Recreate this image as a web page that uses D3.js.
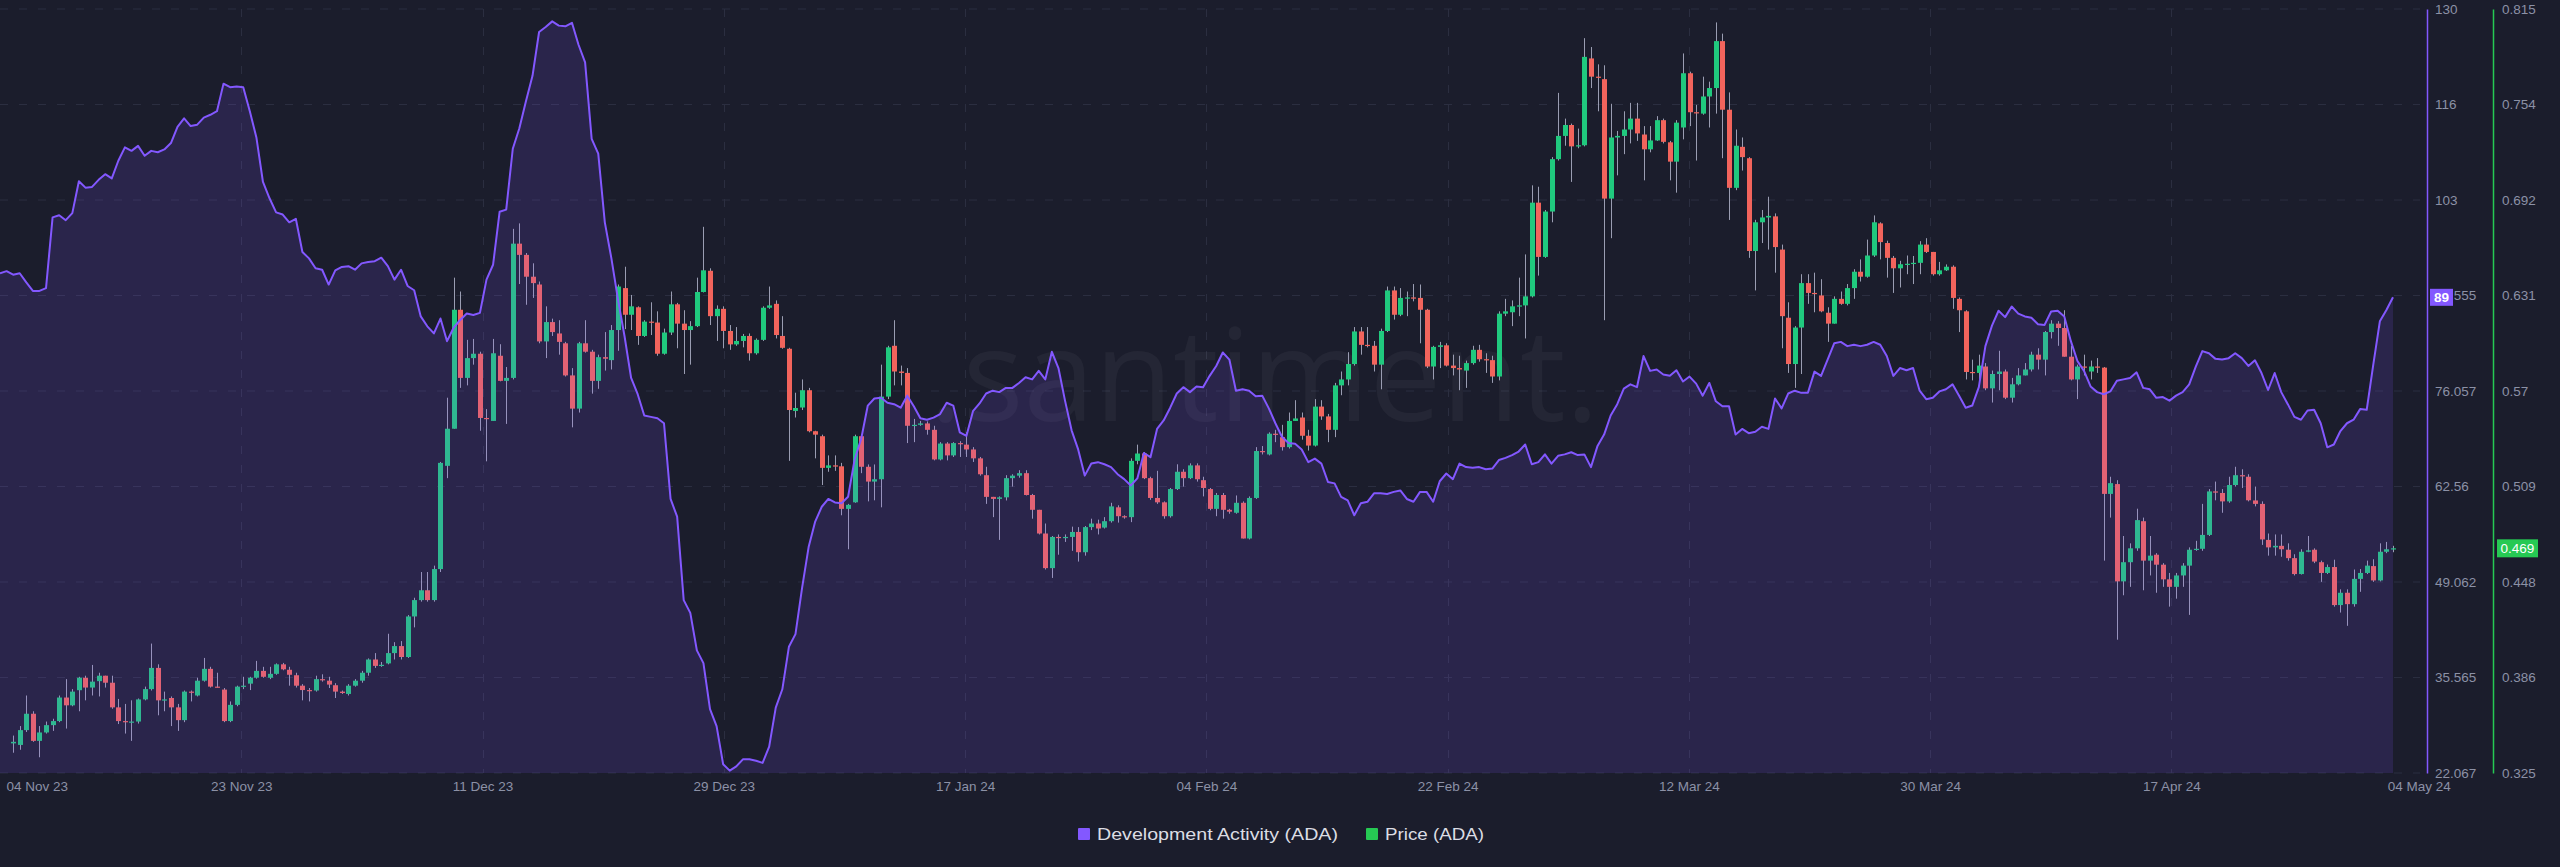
<!DOCTYPE html>
<html><head><meta charset="utf-8">
<script src="https://cdn.jsdelivr.net/npm/d3@7"></script>
<style>
html,body{margin:0;padding:0;background:#1b1d2c;}
svg{display:block;}
</style></head><body>
<svg id="chart" width="2560" height="867"></svg>
<script>
// ---------------- DATA ----------------
const devStart = "2023-11-04T00:00:00Z";   // first Development Activity sample
const candleStart = "2023-11-05T00:00:00Z"; // first price candle
const stepHours = 12;

const devActivity = [
92.7,93.0,92.5,92.7,91.4,90.2,90.2,90.6,100.6,100.9,
100.2,101.2,105.7,104.8,104.9,105.9,106.7,106.1,108.6,110.5,
110.0,110.7,109.3,110.0,109.8,110.2,111.1,113.4,114.6,113.5,
113.7,114.7,115.1,115.6,119.5,119.0,119.1,119.0,115.6,111.9,
105.6,103.3,101.3,101.0,99.9,100.4,95.7,94.8,93.4,93.2,
91.1,93.1,93.6,93.7,93.2,94.1,94.3,94.4,94.9,93.7,
91.8,93.2,90.9,90.3,86.6,85.2,84.2,86.3,83.1,85.0,
86.1,87.0,86.8,87.1,91.8,93.9,101.4,101.7,110.3,113.2,
117.0,120.6,126.8,127.5,128.3,127.7,127.6,128.1,125.0,122.5,
111.7,109.6,99.9,94.8,89.0,83.8,77.9,75.6,72.6,72.4,
72.2,71.5,60.8,58.3,46.5,44.7,39.4,37.6,31.1,28.7,
23.3,22.4,23.0,24.0,24.0,23.8,23.5,25.8,31.3,33.9,
39.9,41.7,48.2,54.0,57.6,59.7,60.8,60.3,60.2,61.1,
66.4,69.3,74.0,75.0,75.1,74.4,74.2,73.7,75.4,73.9,
72.2,72.0,72.3,72.8,74.4,74.0,70.2,69.7,73.2,74.3,
75.7,76.1,75.9,76.5,76.5,77.2,78.0,77.7,78.9,77.7,
81.6,79.3,74.7,70.5,67.8,64.1,65.8,66.0,65.7,65.3,
64.3,63.6,62.7,63.7,67.3,66.7,70.7,71.9,73.7,75.7,
76.6,75.9,76.7,76.6,78.2,79.6,81.5,80.5,76.1,76.3,
76.1,75.3,75.4,73.6,71.5,69.6,68.7,68.6,67.8,66.0,
66.5,65.8,63.2,63.0,61.1,60.6,58.5,60.2,60.4,61.6,
61.6,61.5,61.8,62.0,60.8,60.4,61.8,61.8,60.4,63.3,
64.4,63.6,65.8,65.3,65.2,65.3,65.0,65.1,66.3,66.6,
67.0,67.5,68.5,65.7,66.0,67.1,65.8,66.9,67.1,67.4,
67.0,67.1,65.3,68.3,69.9,72.6,74.2,76.4,77.0,76.6,
81.0,78.9,79.1,78.4,78.2,79.0,77.4,78.1,77.1,75.4,
77.2,74.6,73.9,73.9,69.9,70.7,70.1,70.3,71.0,70.7,
75.0,73.6,75.7,76.1,75.8,75.8,78.8,78.2,80.5,82.8,
83.0,82.4,82.6,82.4,82.6,83.0,82.6,81.0,78.2,79.3,
79.0,79.3,76.1,74.9,75.1,76.0,76.3,77.0,75.4,73.7,
74.0,76.6,82.4,85.3,87.4,86.5,88.0,87.0,86.6,86.4,
85.5,85.4,87.3,87.4,86.6,83.1,80.3,78.9,76.7,75.9,
75.6,76.0,77.5,77.7,77.9,78.7,76.5,76.3,75.1,75.2,
74.7,75.4,75.9,77.0,79.5,81.7,81.4,80.6,80.5,80.7,
81.4,80.7,79.6,80.4,78.6,76.2,78.6,75.9,74.2,72.4,
72.0,73.3,73.4,71.5,68.1,68.5,70.4,71.5,72.0,73.5,
73.4,79.8,85.9,87.5,89.3];

const priceOpen = [
0.344,0.343,0.3525,0.363,0.3456,0.351,0.3557,0.3583,0.3734,0.3684,
0.3781,0.3861,0.3798,0.3839,0.3874,0.3829,0.3671,0.3583,0.3577,0.358,
0.3722,0.3788,0.3924,0.3716,0.3731,0.3671,0.3589,0.3772,0.3747,0.3842,
0.3918,0.3804,0.3785,0.3583,0.3687,0.3804,0.3823,0.3861,0.3905,0.3861,
0.3886,0.3947,0.3912,0.3877,0.381,0.3782,0.3779,0.3852,0.3842,0.3813,
0.3772,0.3757,0.381,0.3842,0.3893,0.3978,0.3937,0.3953,0.4019,0.4064,
0.3994,0.4254,0.4359,0.4422,0.4359,0.4558,0.522,0.5458,0.6221,0.5784,
0.5911,0.5939,0.5527,0.5508,0.5926,0.5765,0.5784,0.6645,0.6573,0.6433,
0.6383,0.6018,0.6142,0.6069,0.6006,0.58,0.5587,0.6006,0.5952,0.5765,
0.5917,0.5898,0.6091,0.636,0.6189,0.6237,0.6053,0.6145,0.6139,0.5939,
0.6075,0.6256,0.6132,0.6091,0.6116,0.6335,0.6471,0.618,0.6227,0.6085,
0.5999,0.6021,0.6053,0.5942,0.6028,0.6234,0.6259,0.6053,0.5971,0.5572,
0.5594,0.5705,0.5442,0.541,0.5207,0.5223,0.5217,0.4944,0.4986,0.541,
0.5214,0.5119,0.5134,0.5664,0.599,0.5825,0.5816,0.5477,0.5483,0.5492,
0.5451,0.5261,0.5363,0.5287,0.5366,0.5356,0.5325,0.5268,0.516,0.5021,
0.5008,0.5018,0.5141,0.5157,0.5173,0.5033,0.4938,0.4786,0.4564,0.4764,
0.4758,0.4764,0.4796,0.4666,0.4827,0.485,0.4824,0.4865,0.4954,0.4897,
0.4891,0.5252,0.5299,0.5141,0.5014,0.4986,0.4897,0.5071,0.5182,0.5141,
0.5223,0.5128,0.5071,0.4944,0.5033,0.4938,0.4919,0.4983,0.4754,0.5014,
0.5315,0.5293,0.5426,0.5404,0.534,0.5508,0.553,0.5413,0.535,0.56,
0.5537,0.5451,0.5736,0.5774,0.5873,0.6082,0.5996,0.599,0.5869,0.6085,
0.6345,0.6189,0.6297,0.63,0.6297,0.6221,0.5857,0.5983,0.5993,0.5863,
0.5847,0.5831,0.5879,0.5964,0.5904,0.5898,0.5793,0.6196,0.6205,0.6243,
0.6249,0.6307,0.6908,0.656,0.6851,0.7187,0.7336,0.7406,0.7269,0.7276,
0.7833,0.7716,0.77,0.6934,0.7326,0.7336,0.7377,0.7447,0.7345,0.725,
0.7307,0.7437,0.7295,0.7171,0.739,0.7738,0.7488,0.7479,0.7589,0.7643,
0.7944,0.7504,0.7003,0.7266,0.7193,0.6598,0.6782,0.6813,0.682,0.6607,
0.617,0.5873,0.6107,0.6392,0.6329,0.6313,0.6202,0.6132,0.6291,0.6259,
0.636,0.6465,0.6433,0.6569,0.6775,0.6649,0.6554,0.6487,0.6513,0.6516,
0.6522,0.6639,0.6592,0.6449,0.6474,0.6497,0.6291,0.6211,0.5822,0.5816,
0.5857,0.5717,0.5809,0.5825,0.5657,0.5743,0.58,0.5838,0.5933,0.5901,
0.6078,0.6132,0.6104,0.592,0.5774,0.5857,0.5825,0.5857,0.585,0.504,
0.5103,0.4479,0.4602,0.4691,0.4865,0.4612,0.465,0.4586,0.4492,0.4444,
0.4517,0.458,0.4682,0.4688,0.4777,0.5056,0.5046,0.4992,0.5097,0.516,
0.515,0.4998,0.4976,0.4745,0.4697,0.4707,0.4682,0.4628,0.4526,0.4669,
0.4682,0.4602,0.4533,0.4571,0.4327,0.4406,0.4333,0.4495,0.4533,0.4577,
0.4485,0.4669,0.4685];

const priceHigh = [
0.349,0.3551,0.3747,0.3646,0.3551,0.358,0.3598,0.3747,0.3852,0.3788,
0.3867,0.3874,0.3943,0.3893,0.3874,0.3874,0.3725,0.3693,0.3716,0.3728,
0.3804,0.408,0.3947,0.3772,0.3741,0.3693,0.3779,0.3779,0.3861,0.3988,
0.3931,0.3893,0.3795,0.3709,0.381,0.3867,0.3867,0.3969,0.3931,0.3931,
0.3953,0.3956,0.3931,0.3893,0.382,0.3795,0.3874,0.3883,0.3867,0.3826,
0.3779,0.382,0.3852,0.3905,0.3985,0.4019,0.3962,0.4143,0.4089,0.4096,
0.4263,0.4374,0.4539,0.4539,0.458,0.5245,0.5657,0.6427,0.6338,0.6028,
0.6034,0.5952,0.5584,0.6034,0.6,0.5854,0.674,0.6775,0.6585,0.6519,
0.6402,0.6243,0.6164,0.6154,0.6015,0.5847,0.6015,0.6154,0.5964,0.5933,
0.6078,0.6123,0.6383,0.6497,0.6316,0.6243,0.6154,0.6269,0.6211,0.61,
0.6338,0.6265,0.6218,0.6148,0.6427,0.6753,0.6487,0.6249,0.6243,0.6123,
0.611,0.6066,0.6069,0.6037,0.6243,0.637,0.6281,0.618,0.5977,0.5689,
0.5774,0.572,0.5445,0.542,0.5287,0.5287,0.5239,0.4976,0.542,0.542,
0.5229,0.5229,0.5869,0.599,0.6154,0.5863,0.5847,0.5521,0.5508,0.5505,
0.5477,0.5372,0.5372,0.5372,0.5378,0.5435,0.534,0.5277,0.5214,0.5021,
0.5024,0.516,0.5166,0.5192,0.5192,0.504,0.4938,0.485,0.477,0.478,
0.478,0.483,0.4827,0.4834,0.4881,0.4875,0.4891,0.4983,0.4967,0.4903,
0.5268,0.5356,0.5309,0.515,0.5188,0.4992,0.5078,0.523,0.5198,0.5236,
0.5236,0.515,0.5078,0.5046,0.5046,0.4944,0.503,0.4992,0.5024,0.534,
0.5347,0.5435,0.5451,0.5483,0.5562,0.5641,0.5562,0.5451,0.5648,0.5641,
0.5553,0.5752,0.5825,0.5949,0.611,0.611,0.611,0.6021,0.61,0.637,
0.637,0.636,0.6338,0.6386,0.6383,0.6227,0.599,0.6015,0.6006,0.5933,
0.5926,0.5895,0.599,0.5996,0.5942,0.5926,0.6211,0.6291,0.6281,0.6427,
0.6576,0.7019,0.701,0.6861,0.72,0.7612,0.7447,0.7415,0.7383,0.7963,
0.7906,0.7795,0.7789,0.7542,0.7368,0.7494,0.7548,0.7548,0.7399,0.7399,
0.7463,0.7447,0.7304,0.7437,0.7865,0.7748,0.7535,0.7716,0.7684,0.8064,
0.7992,0.7615,0.7377,0.7326,0.72,0.6798,0.6861,0.6946,0.6839,0.6639,
0.6269,0.6116,0.6449,0.6449,0.6459,0.6417,0.6237,0.6307,0.6338,0.6386,
0.6481,0.6544,0.6671,0.6826,0.6782,0.6664,0.6566,0.6535,0.6569,0.6566,
0.6661,0.668,0.6592,0.6528,0.6512,0.6506,0.63,0.6218,0.5901,0.5933,
0.5879,0.5831,0.5958,0.5838,0.5784,0.5847,0.5879,0.5952,0.5974,0.6085,
0.6154,0.6148,0.6218,0.599,0.5869,0.5933,0.5895,0.5911,0.5854,0.515,
0.5128,0.477,0.4723,0.4945,0.4888,0.477,0.466,0.4596,0.4533,0.4533,
0.4596,0.4697,0.4739,0.4976,0.5071,0.5119,0.5071,0.515,0.5214,0.5198,
0.5166,0.5087,0.4992,0.4786,0.478,0.478,0.4723,0.4653,0.4685,0.477,
0.4691,0.4612,0.4587,0.4618,0.4428,0.4428,0.4555,0.4558,0.4612,0.4621,
0.4723,0.4732,0.4707];

const priceLow = [
0.338,0.3399,0.3513,0.345,0.3351,0.3503,0.352,0.3576,0.3535,0.3678,
0.3646,0.3716,0.3747,0.3741,0.3798,0.3662,0.3564,0.3503,0.3456,0.3567,
0.3716,0.3779,0.362,0.3646,0.3551,0.352,0.3576,0.3709,0.3741,0.3836,
0.3798,0.3798,0.3576,0.3576,0.3678,0.3788,0.3782,0.3855,0.3861,0.3852,
0.388,0.3909,0.381,0.3798,0.3716,0.3709,0.3772,0.3836,0.3795,0.3731,
0.3757,0.3747,0.3804,0.3829,0.3874,0.3924,0.3931,0.3947,0.3978,0.3978,
0.3988,0.4184,0.4349,0.4349,0.4349,0.4539,0.5141,0.5458,0.572,0.5736,
0.5869,0.5445,0.5249,0.5508,0.5762,0.5489,0.5774,0.6386,0.6253,0.6297,
0.6006,0.5911,0.6053,0.5933,0.5793,0.5467,0.5562,0.5946,0.5683,0.5714,
0.5831,0.5838,0.5958,0.6097,0.6091,0.5996,0.6047,0.6059,0.5926,0.5933,
0.6059,0.5974,0.5809,0.5869,0.611,0.6332,0.6123,0.6021,0.5974,0.5964,
0.599,0.598,0.5895,0.5933,0.6021,0.6227,0.6037,0.5971,0.5252,0.553,
0.5578,0.5435,0.5268,0.5097,0.5182,0.5188,0.4903,0.4685,0.4983,0.5173,
0.4992,0.4999,0.4954,0.5648,0.5736,0.5736,0.5366,0.5372,0.5477,0.542,
0.5255,0.5255,0.5255,0.5277,0.5277,0.5277,0.5245,0.5157,0.4976,0.4891,
0.4745,0.4998,0.5087,0.5144,0.503,0.4881,0.478,0.4555,0.4501,0.465,
0.4732,0.4675,0.4606,0.4644,0.4808,0.478,0.4818,0.4856,0.4856,0.4881,
0.4859,0.523,0.5135,0.5002,0.4976,0.4881,0.4888,0.5065,0.5087,0.5135,
0.5119,0.5024,0.4935,0.4897,0.4881,0.4913,0.4913,0.4754,0.4748,0.5008,
0.5293,0.5287,0.5372,0.5318,0.5331,0.5508,0.5388,0.5318,0.5344,0.5515,
0.5372,0.5404,0.5673,0.5736,0.5863,0.5933,0.598,0.5825,0.5711,0.6078,
0.6158,0.618,0.618,0.6275,0.6006,0.5847,0.5774,0.5847,0.5857,0.58,
0.5705,0.572,0.5869,0.5888,0.5816,0.5752,0.5768,0.618,0.6116,0.618,
0.6037,0.63,0.644,0.6554,0.6782,0.7178,0.7273,0.7041,0.7257,0.7269,
0.7643,0.7494,0.6154,0.668,0.7083,0.7219,0.7288,0.7304,0.7051,0.7231,
0.7304,0.7288,0.7051,0.6972,0.7314,0.7399,0.7178,0.7472,0.739,0.7479,
0.7193,0.6797,0.6988,0.7114,0.6554,0.6345,0.6649,0.6607,0.6459,0.5974,
0.5816,0.572,0.5809,0.6259,0.6205,0.6205,0.6015,0.6132,0.6253,0.6249,
0.6291,0.6402,0.6427,0.656,0.6544,0.6427,0.6329,0.6364,0.6449,0.6386,
0.6449,0.6585,0.644,0.644,0.647,0.6227,0.6078,0.5774,0.5768,0.5768,
0.5705,0.5626,0.5705,0.5648,0.5626,0.5736,0.58,0.5825,0.5838,0.58,
0.6037,0.599,0.592,0.5768,0.5648,0.58,0.5774,0.5816,0.4612,0.4888,
0.4105,0.439,0.4444,0.4675,0.4422,0.4517,0.4406,0.4444,0.4317,0.4368,
0.4444,0.4264,0.4675,0.4675,0.477,0.4999,0.4919,0.4983,0.5087,0.5078,
0.4992,0.496,0.4713,0.4644,0.4644,0.4637,0.4612,0.4517,0.4523,0.4666,
0.4596,0.4476,0.4526,0.4317,0.4279,0.4194,0.4317,0.4412,0.4526,0.4476,
0.4479,0.466,0.4666];

const priceClose = [
0.345,0.3525,0.363,0.3456,0.351,0.3557,0.3583,0.3734,0.3684,0.3772,
0.3861,0.3798,0.3836,0.3874,0.3829,0.3671,0.3583,0.358,0.358,0.3722,
0.3788,0.3924,0.3716,0.3722,0.3671,0.3589,0.3772,0.3766,0.3842,0.3918,
0.3804,0.3801,0.3583,0.3687,0.3804,0.381,0.3861,0.3905,0.3867,0.3886,
0.3947,0.3915,0.388,0.381,0.3782,0.3779,0.3852,0.3849,0.3817,0.3772,
0.3763,0.381,0.3842,0.3893,0.3978,0.3937,0.3944,0.4019,0.4064,0.3994,
0.4254,0.4359,0.4422,0.4359,0.4558,0.5239,0.5458,0.6221,0.5784,0.5911,
0.5939,0.5527,0.5521,0.5942,0.5765,0.5784,0.6645,0.6573,0.6433,0.6392,
0.6018,0.6142,0.6078,0.6015,0.58,0.5587,0.6006,0.5952,0.5765,0.5917,
0.5907,0.6091,0.637,0.6189,0.6243,0.6053,0.6145,0.6139,0.5939,0.6075,
0.6256,0.6132,0.6091,0.6116,0.6335,0.6474,0.618,0.6227,0.6085,0.5999,
0.6021,0.6053,0.5942,0.6028,0.6234,0.6249,0.6059,0.5977,0.5578,0.5591,
0.5705,0.5442,0.542,0.5207,0.5223,0.5217,0.4944,0.497,0.541,0.5214,
0.5119,0.5134,0.5664,0.598,0.5825,0.5816,0.5477,0.5483,0.5492,0.5451,
0.5261,0.5363,0.5287,0.5366,0.5359,0.5325,0.5268,0.5166,0.5021,0.5008,
0.5018,0.5141,0.5157,0.5173,0.5033,0.4938,0.4786,0.4564,0.4764,0.4758,
0.4764,0.4796,0.4666,0.4827,0.485,0.4818,0.4865,0.496,0.4897,0.4891,
0.5252,0.5299,0.5141,0.5014,0.4986,0.4897,0.5071,0.5182,0.5141,0.5223,
0.5134,0.5078,0.4944,0.5033,0.4938,0.4926,0.4983,0.4754,0.5014,0.5315,
0.5309,0.5426,0.542,0.534,0.5508,0.5524,0.5413,0.535,0.56,0.5537,
0.5451,0.5736,0.5774,0.5873,0.6082,0.5996,0.599,0.5869,0.6085,0.6345,
0.6189,0.6297,0.63,0.6297,0.6221,0.5857,0.5983,0.5993,0.5863,0.5847,
0.5838,0.5879,0.5964,0.5904,0.5898,0.5793,0.6196,0.6211,0.6243,0.6249,
0.6307,0.6908,0.656,0.6851,0.7187,0.7336,0.7406,0.7269,0.7276,0.7843,
0.7716,0.771,0.6934,0.7326,0.7336,0.7377,0.7447,0.7352,0.725,0.7307,
0.7437,0.7298,0.7171,0.7421,0.7738,0.7488,0.7482,0.7589,0.7643,0.7944,
0.7504,0.7003,0.7273,0.72,0.6598,0.6782,0.6813,0.6823,0.6623,0.618,
0.5873,0.6107,0.6392,0.6329,0.6322,0.6211,0.6132,0.6291,0.6259,0.636,
0.6465,0.6433,0.6569,0.6782,0.6655,0.6554,0.6487,0.6513,0.6516,0.6522,
0.6639,0.6592,0.6449,0.6474,0.6497,0.6297,0.6218,0.5822,0.5816,0.5863,
0.5717,0.5809,0.5825,0.5657,0.5743,0.58,0.5838,0.5933,0.5901,0.6078,
0.6132,0.6104,0.592,0.5774,0.5857,0.585,0.5857,0.585,0.504,0.5109,
0.4479,0.4602,0.4691,0.4872,0.4612,0.4644,0.4586,0.4492,0.4444,0.4517,
0.458,0.4682,0.4688,0.4777,0.5056,0.5049,0.4992,0.5097,0.516,0.5154,
0.4999,0.4976,0.4748,0.4697,0.4707,0.4685,0.4628,0.4526,0.4669,0.4678,
0.4606,0.4533,0.4571,0.4327,0.4406,0.4333,0.4495,0.4533,0.458,0.4485,
0.4669,0.4685,0.4691];

const xTickLabels = ["04 Nov 23","23 Nov 23","11 Dec 23","29 Dec 23","17 Jan 24","04 Feb 24",
                     "22 Feb 24","12 Mar 24","30 Mar 24","17 Apr 24","04 May 24"];
const xTickStepDays = 18.35;
const devTickValues = [130.05,116.55,103.05,89.555,76.057,62.56,49.062,35.565,22.067];
const devTickLabels = ["130","116","103","89.555","76.057","62.56","49.062","35.565","22.067"];
const priceTickValues = [0.815,0.75375,0.6925,0.63125,0.57,0.50875,0.4475,0.38625,0.325];
const priceTickLabels = ["0.815","0.754","0.692","0.631","0.57","0.509","0.448","0.386","0.325"];
const seriesNames = ["Development Activity (ADA)","Price (ADA)"];

// ---------------- STYLE ----------------
const C = {
  bg:"#1b1d2c", grid:"#2b2e40", text:"#8c91a6", legendText:"#dcdde4",
  dev:"#8358ff", price:"#26c953", up:"#20c97e", down:"#f2645c", wick:"#9a9db2",
  areaFill:"rgba(131,88,255,0.15)"
};
const plotL = 0, plotR = 2393, plotT = 9, plotB = 773;
const devAxisX = 2427, priceAxisX = 2493;

const svg = d3.select("#chart");
svg.append("rect").attr("width",2560).attr("height",867).attr("fill",C.bg);

const stepMs = stepHours*3600e3;
const t0 = new Date(devStart);
const devData = devActivity.map((v,j)=>({date:new Date(+t0 + j*stepMs), v}));
const c0 = new Date(candleStart);
const candles = priceOpen.map((o,i)=>({date:new Date(+c0 + i*stepMs), o, h:priceHigh[i], l:priceLow[i], c:priceClose[i]}));

const x = d3.scaleTime().domain([t0, devData[devData.length-1].date]).range([plotL, plotR]);
const yDev = d3.scaleLinear().domain([22.067,130.05]).range([plotB, plotT]);
const yPrice = d3.scaleLinear().domain([0.325,0.815]).range([plotB, plotT]);

// grid
const grid = svg.append("g");
grid.selectAll("line.h").data(devTickValues).join("line")
  .attr("x1",plotL).attr("x2",2420).attr("y1",d=>yDev(d)).attr("y2",d=>yDev(d))
  .attr("stroke",C.grid).attr("stroke-width",1).attr("stroke-dasharray","8,11");
const xTickDates = xTickLabels.map((_,k)=>new Date(+t0 + k*xTickStepDays*864e5));
grid.selectAll("line.v").data(xTickDates.slice(1,-1)).join("line")
  .attr("x1",d=>Math.round(x(d))+0.5).attr("x2",d=>Math.round(x(d))+0.5).attr("y1",plotT).attr("y2",plotB)
  .attr("stroke",C.grid).attr("stroke-width",1).attr("stroke-dasharray","8,11");

// watermark
svg.append("text").attr("x",1264).attr("y",421).attr("text-anchor","middle")
  .attr("font-family","'Open Sans', sans-serif").attr("font-weight",400).attr("font-size",128)
  .attr("fill","rgba(255,255,255,0.045)").text(".santiment.");

// candles
const bw = 5;
const cg = svg.append("g");
cg.selectAll("line").data(candles).join("line")
  .attr("x1",d=>Math.round(x(d.date))+0.5).attr("x2",d=>Math.round(x(d.date))+0.5)
  .attr("y1",d=>yPrice(d.h)).attr("y2",d=>yPrice(d.l))
  .attr("stroke",C.wick).attr("stroke-width",1);
cg.selectAll("rect").data(candles).join("rect")
  .attr("x",d=>Math.round(x(d.date))+0.5-bw/2)
  .attr("width",bw)
  .attr("y",d=>yPrice(Math.max(d.o,d.c)))
  .attr("height",d=>Math.max(1.2, Math.abs(yPrice(d.o)-yPrice(d.c))))
  .attr("fill",d=>d.c>=d.o?C.up:C.down);

// dev area + line
const area = d3.area().x(d=>x(d.date)).y0(plotB).y1(d=>yDev(d.v));
svg.append("path").datum(devData).attr("d",area).attr("fill",C.areaFill);
const line = d3.line().x(d=>x(d.date)).y(d=>yDev(d.v));
svg.append("path").datum(devData).attr("d",line).attr("fill","none")
  .attr("stroke",C.dev).attr("stroke-width",2).attr("stroke-linejoin","round");

// x axis
const xAxis = d3.axisBottom(x).tickValues(xTickDates).tickFormat((d,i)=>xTickLabels[i]).tickSize(0).tickPadding(0);
const xg = svg.append("g").attr("transform",`translate(0,${plotB})`).call(xAxis);
xg.select(".domain").remove();
xg.selectAll("text").attr("fill",C.text).attr("font-size",13.5)
  .attr("font-family","'Liberation Sans', Arial, sans-serif").attr("dy",18);
xg.selectAll(".tick").filter((d,i)=>i===0).select("text").attr("text-anchor","start").attr("dx",6);
xg.selectAll(".tick").filter((d,i)=>i===xTickLabels.length-1).select("text").attr("dx",6);

// right axes
function styleAxis(g,color){
  g.select(".domain").attr("stroke",color).attr("stroke-width",1.5);
  g.selectAll("text").attr("fill",C.text).attr("font-size",13.5)
    .attr("font-family","'Liberation Sans', Arial, sans-serif").attr("text-anchor","start");
}
const devAxis = d3.axisRight(yDev).tickValues(devTickValues).tickFormat((d,i)=>devTickLabels[i]).tickSize(0).tickSizeOuter(0).tickPadding(8);
const dg = svg.append("g").attr("transform",`translate(${devAxisX},0)`).call(devAxis);
styleAxis(dg,C.dev);
const priceAxis = d3.axisRight(yPrice).tickValues(priceTickValues).tickFormat((d,i)=>priceTickLabels[i]).tickSize(0).tickSizeOuter(0).tickPadding(9);
const pg = svg.append("g").attr("transform",`translate(${priceAxisX},0)`).call(priceAxis);
styleAxis(pg,C.price);

// last-value badges
const lastDev = devActivity[devActivity.length-1];
const lastPrice = priceClose[priceClose.length-1];
const b1 = svg.append("g").attr("transform",`translate(${devAxisX+3},${yDev(lastDev)})`);
b1.append("rect").attr("x",0).attr("y",-8.5).attr("width",23).attr("height",17).attr("fill",C.dev);
b1.append("text").attr("x",11.5).attr("y",5).attr("text-anchor","middle").attr("fill","#fff")
  .attr("font-size",13.5).attr("font-weight",700).attr("font-family","'Liberation Sans', Arial, sans-serif")
  .text(Math.round(lastDev));
const b2 = svg.append("g").attr("transform",`translate(${priceAxisX+4},${yPrice(lastPrice)})`);
b2.append("rect").attr("x",0).attr("y",-9).attr("width",41).attr("height",18).attr("fill",C.price);
b2.append("text").attr("x",20.5).attr("y",5).attr("text-anchor","middle").attr("fill","#fff")
  .attr("font-size",13.5).attr("font-family","'Liberation Sans', Arial, sans-serif")
  .text(lastPrice.toFixed(3));

// legend
const lg = svg.append("g").attr("transform","translate(1078,840)");
const items = [{name:seriesNames[0],color:C.dev,x:0,w:241},{name:seriesNames[1],color:C.price,x:288,w:99}];
items.forEach(it=>{
  lg.append("rect").attr("x",it.x).attr("y",-12).attr("width",12).attr("height",12).attr("fill",it.color).attr("rx",1);
  lg.append("text").attr("x",it.x+19).attr("y",0).attr("fill",C.legendText)
    .attr("font-size",17).attr("font-family","'Liberation Sans', Arial, sans-serif")
    .attr("textLength",it.w).attr("lengthAdjust","spacingAndGlyphs").text(it.name);
});
</script>
</body></html>
